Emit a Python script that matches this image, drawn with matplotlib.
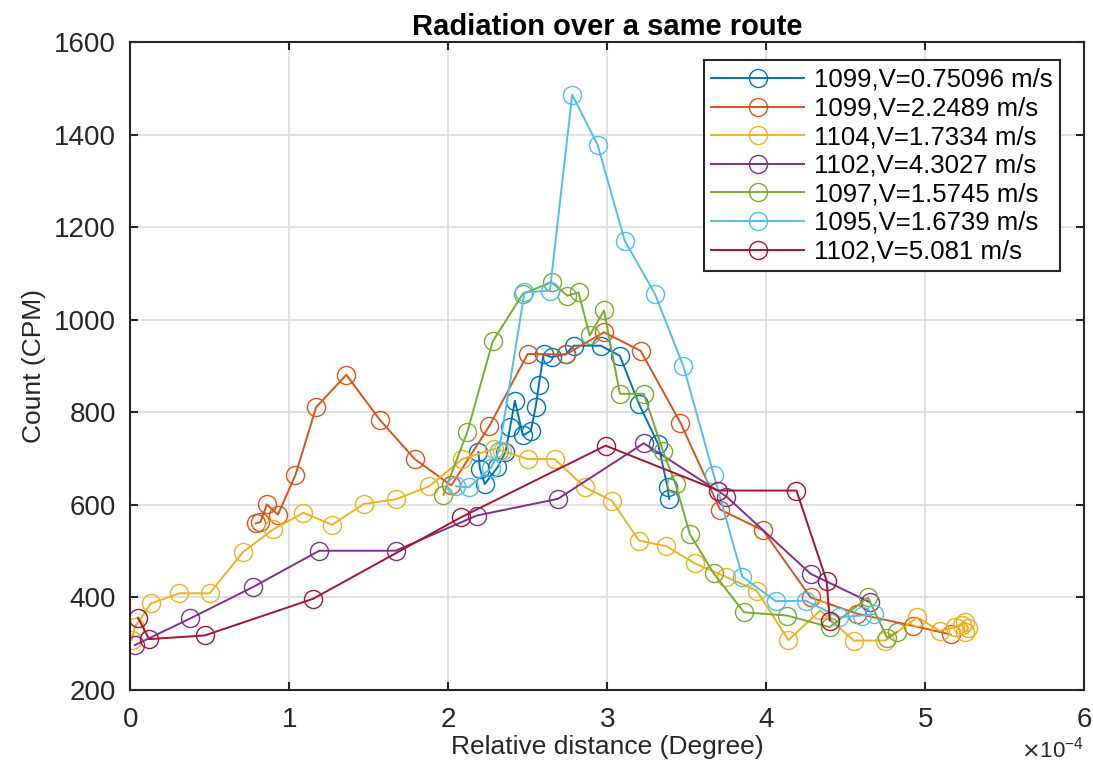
import numpy as np
import matplotlib
matplotlib.use('Agg')
import matplotlib.pyplot as plt
from matplotlib.ticker import ScalarFormatter

# x values are in units of 1e-4 degree
blue_x = [2.19, 2.20, 2.23, 2.31, 2.36, 2.39, 2.42, 2.47, 2.52, 2.55, 2.57, 2.60, 2.65, 2.74, 2.79, 2.96, 3.08, 3.20, 3.32, 3.38, 3.39]
blue_y = [714, 678, 645, 681, 714, 768, 825, 750, 760, 811, 858, 926, 919, 926, 944, 944, 922, 818, 732, 638, 613]

orange_x = [0.79, 0.82, 0.86, 0.93, 1.04, 1.17, 1.36, 1.57, 1.79, 2.02, 2.26, 2.50, 2.74, 2.98, 3.21, 3.46, 3.71, 3.98, 4.28, 4.57, 4.92, 5.16]
orange_y = [560, 563, 601, 579, 665, 811, 881, 784, 699, 642, 771, 926, 925, 973, 933, 778, 590, 545, 400, 365, 339, 320]

yellow_x = [0.01, 0.03, 0.13, 0.31, 0.50, 0.71, 0.90, 1.09, 1.27, 1.47, 1.67, 1.88, 2.09, 2.29, 2.34, 2.50, 2.67, 2.86,
            3.03, 3.20, 3.37, 3.55, 3.75, 3.94, 4.14, 4.34, 4.55, 4.75, 4.95, 5.09, 5.19, 5.25, 5.27, 5.25, 5.23]
yellow_y = [308, 336, 387, 409, 409, 498, 547, 583, 557, 602, 612, 640, 699, 721, 717, 699, 699, 638,
            609, 523, 511, 474, 444, 415, 308, 372, 307, 307, 357, 328, 336, 347, 333, 325, 340]

purple_x = [0.03, 0.38, 0.77, 1.19, 1.67, 2.18, 2.69, 3.23, 3.75, 4.28, 4.65]
purple_y = [297, 355, 422, 501, 501, 577, 613, 733, 618, 451, 390]

green_x = [1.97, 2.12, 2.28, 2.47, 2.65, 2.75, 2.82, 2.89, 2.98, 3.08, 3.23, 3.35, 3.43, 3.52, 3.67, 3.86, 4.13, 4.40, 4.64, 4.76, 4.82]
green_y = [622, 757, 953, 1056, 1081, 1052, 1059, 966, 1020, 840, 840, 717, 645, 537, 452, 368, 361, 336, 400, 313, 325]

cyan_x = [2.05, 2.13, 2.27, 2.32, 2.48, 2.64, 2.78, 2.94, 3.11, 3.30, 3.48, 3.67, 3.85, 4.06, 4.25, 4.46, 4.60, 4.68]
cyan_y = [640, 638, 680, 717, 1059, 1063, 1486, 1378, 1171, 1056, 899, 665, 445, 392, 393, 357, 361, 364]

red_x = [0.05, 0.12, 0.47, 1.15, 2.08, 2.99, 3.70, 4.19, 4.38, 4.40]
red_y = [356, 310, 318, 397, 573, 728, 631, 631, 436, 350]

labels = ['1099,V=0.75096 m/s', '1099,V=2.2489 m/s', '1104,V=1.7334 m/s', '1102,V=4.3027 m/s',
          '1097,V=1.5745 m/s', '1095,V=1.6739 m/s', '1102,V=5.081 m/s']
colors = ['#0072BD', '#D95319', '#EDB120', '#7E2F8E', '#77AC30', '#4DBEEE', '#A2142F']

plt.rcParams['font.family'] = ['Liberation Sans', 'DejaVu Sans']

fig = plt.figure(figsize=(10.93, 7.71), dpi=100)
ax = fig.add_axes([0.119, 0.105, 0.873, 0.8405])

series = [(blue_x, blue_y), (orange_x, orange_y), (yellow_x, yellow_y), (purple_x, purple_y),
          (green_x, green_y), (cyan_x, cyan_y), (red_x, red_y)]
for (xs, ys), lab, c in zip(series, labels, colors):
    ax.plot(np.array(xs) * 1e-4, ys, color=c, lw=1.4, marker='o', ms=13,
            mfc='none', mec=c, mew=1.0, label=lab)

ax.set_xlim(0, 6e-4)
ax.set_ylim(200, 1600)
ax.set_xticks(np.arange(0, 7) * 1e-4)
ax.set_yticks(np.arange(200, 1601, 200))

fmt = ScalarFormatter(useMathText=True)
fmt.set_powerlimits((-3, 3))
ax.xaxis.set_major_formatter(fmt)
ax.xaxis.get_offset_text().set_fontsize(16)
ax.xaxis.get_offset_text().set_color('#262626')

ax.grid(True, color='#dcdcdc', lw=1.2)
ax.set_axisbelow(True)
for sp in ax.spines.values():
    sp.set_color('#262626')
    sp.set_linewidth(1.5)
ax.tick_params(direction='in', top=True, right=True, length=6, width=1.5,
               labelsize=20, colors='#262626', labelcolor='#262626')
ax.tick_params(axis='x', pad=12)
ax.tick_params(axis='y', pad=10)

ax.set_xlabel('Relative distance (Degree)', fontsize=19, color='#262626', labelpad=2)
ax.set_ylabel('Count (CPM)', fontsize=19, color='#262626', labelpad=6)
ax.set_title('Radiation over a same route', fontsize=21, fontweight='bold', pad=5)

leg = ax.legend(loc='upper right', bbox_to_anchor=(0.975, 0.972), borderaxespad=0,
                fontsize=18.5, fancybox=False, framealpha=1, edgecolor='#262626',
                handlelength=3.6, labelspacing=0.18, handletextpad=0.4, borderpad=0.3)
leg.get_frame().set_linewidth(1.5)

fig.savefig('out.png', dpi=100)
